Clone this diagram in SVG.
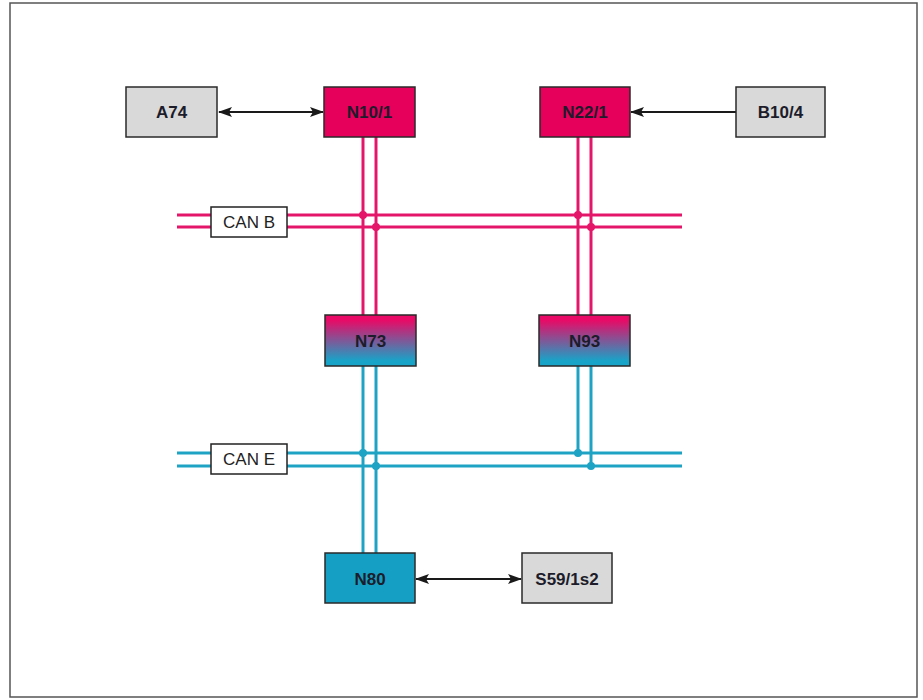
<svg xmlns="http://www.w3.org/2000/svg" width="923" height="700" viewBox="0 0 923 700">
<style>
.node rect{stroke:#2a2a2a;stroke-width:1.5}
.lbl{font-family:"Liberation Sans",Arial,sans-serif;font-weight:bold;font-size:17px;fill:#1c1c2a;text-anchor:middle}
.bus{font-family:"Liberation Sans",Arial,sans-serif;font-size:17px;fill:#222;text-anchor:middle}
.mag{stroke:#e4166a;stroke-width:3;fill:none}
.cyn{stroke:#1fa3c4;stroke-width:3;fill:none}
.arr{stroke:#1a1a1a;stroke-width:2;fill:none}
</style>
<defs>
<linearGradient id="g" x1="0" y1="0" x2="0" y2="1">
<stop offset="0.1" stop-color="#e80a66"/>
<stop offset="0.9" stop-color="#18a4c8"/>
</linearGradient>
<marker id="ah" viewBox="0 0 14 10" refX="13" refY="5" markerWidth="14" markerHeight="10" markerUnits="userSpaceOnUse" orient="auto-start-reverse">
<path d="M0,0 L14,5 L0,10 L3,5 Z" fill="#1a1a1a"/>
</marker>
</defs>
<rect x="10" y="3" width="907" height="694" fill="#fff" stroke="#555" stroke-width="1.5"/>
<g id="connectors">
<line class="mag" x1="363" y1="137" x2="363" y2="315"/>
<line class="mag" x1="376" y1="137" x2="376" y2="315"/>
<line class="mag" x1="578" y1="137" x2="578" y2="315"/>
<line class="mag" x1="591" y1="137" x2="591" y2="315"/>
<line class="mag" x1="177" y1="215" x2="682" y2="215"/>
<line class="mag" x1="177" y1="227" x2="682" y2="227"/>
<circle cx="363" cy="215" r="4" fill="#e4166a"/>
<circle cx="376" cy="227" r="4" fill="#e4166a"/>
<circle cx="578" cy="215" r="4" fill="#e4166a"/>
<circle cx="591" cy="227" r="4" fill="#e4166a"/>
<line class="cyn" x1="363" y1="366" x2="363" y2="553"/>
<line class="cyn" x1="376" y1="366" x2="376" y2="553"/>
<line class="cyn" x1="578" y1="366" x2="578" y2="453"/>
<line class="cyn" x1="591" y1="366" x2="591" y2="466"/>
<line class="cyn" x1="177" y1="453" x2="682" y2="453"/>
<line class="cyn" x1="177" y1="466" x2="682" y2="466"/>
<circle cx="363" cy="453" r="4" fill="#1fa3c4"/>
<circle cx="376" cy="466" r="4" fill="#1fa3c4"/>
<circle cx="578" cy="453" r="4" fill="#1fa3c4"/>
<circle cx="591" cy="466" r="4" fill="#1fa3c4"/>
<line class="arr" x1="219" y1="112" x2="323" y2="112" marker-start="url(#ah)" marker-end="url(#ah)"/>
<line class="arr" x1="736" y1="112" x2="631" y2="112" marker-end="url(#ah)"/>
<line class="arr" x1="416" y1="579" x2="521" y2="579" marker-start="url(#ah)" marker-end="url(#ah)"/>
</g>
<g id="canb"><rect x="211" y="207" width="76" height="30" fill="#fff" stroke="#222" stroke-width="1.5"/><text class="bus" x="249" y="228">CAN B</text></g>
<g id="cane"><rect x="211" y="444" width="76" height="30" fill="#fff" stroke="#222" stroke-width="1.5"/><text class="bus" x="249" y="465">CAN E</text></g>
<g id="A74" class="node"><rect x="126" y="87" width="91" height="50" fill="#d9d9d9"/><text class="lbl" x="171.5" y="118">A74</text></g>
<g id="N10_1" class="node"><rect x="324" y="87" width="91" height="50" fill="#e6005c"/><text class="lbl" x="369.5" y="118">N10/1</text></g>
<g id="N22_1" class="node"><rect x="540" y="87" width="90" height="50" fill="#e6005c"/><text class="lbl" x="585" y="118">N22/1</text></g>
<g id="B10_4" class="node"><rect x="736" y="87" width="89" height="50" fill="#d9d9d9"/><text class="lbl" x="780.5" y="118">B10/4</text></g>
<g id="N73" class="node"><rect x="325" y="315" width="91" height="51" fill="url(#g)"/><text class="lbl" x="370.5" y="347">N73</text></g>
<g id="N93" class="node"><rect x="539" y="315" width="91" height="51" fill="url(#g)"/><text class="lbl" x="584.5" y="347">N93</text></g>
<g id="N80" class="node"><rect x="325" y="553" width="90" height="50" fill="#169fc4"/><text class="lbl" x="370" y="585">N80</text></g>
<g id="S59_1s2" class="node"><rect x="522" y="553" width="90" height="50" fill="#d9d9d9"/><text class="lbl" x="567" y="585">S59/1s2</text></g>
</svg>
